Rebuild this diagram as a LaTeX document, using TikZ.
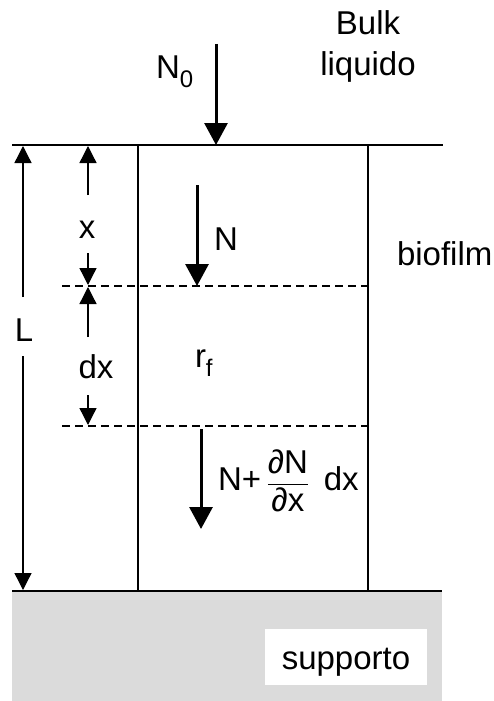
\documentclass[tikz,border=0pt]{standalone}
\usepackage{fontspec}
\usepackage{amsmath}
\setmainfont{Liberation Sans}
\usetikzlibrary{arrows.meta}
\begin{document}
\begin{tikzpicture}[x=1pt,y=-1pt,
  txt/.style={font=\fontsize{33}{40}\selectfont, inner sep=0pt, outer sep=0pt},
  thinarr/.style={line width=1.3pt, -{Triangle[width=17pt,length=17pt]}},
  thickarr/.style={line width=3pt, -{Triangle[width=23pt,length=22pt]}},
  surf/.style={line width=2.8pt},
  wall/.style={line width=1.6pt},
  dashline/.style={line width=1.3pt, dash pattern=on 8pt off 5pt}]
\useasboundingbox (0,0) rectangle (494,701);
% support
\fill[gray!28] (12,591) rectangle (442,701);
\fill[white] (265,629) rectangle (427,685);
\node[txt, anchor=base] (sup) at (346,669) {supporto};
% coordinates
\coordinate (tl) at (12,145); \coordinate (tr) at (443,145);
\coordinate (bl) at (12,591); \coordinate (br) at (442,591);
\coordinate (w1t) at (138,145); \coordinate (w1b) at (138,591);
\coordinate (w2t) at (368,145); \coordinate (w2b) at (368,591);
\coordinate (d1l) at (62,286); \coordinate (d1r) at (368,286);
\coordinate (d2l) at (62,426); \coordinate (d2r) at (368,426);
% walls
\draw[wall] (w1t) -- (w1b);
\draw[wall] (w2t) -- (w2b);
\draw[dashline] (d1l) -- (d1r);
\draw[dashline] (d2l) -- (d2r);
\draw[surf] (tl) -- (tr);
\draw[surf] (bl) -- (br);
% L dimension
\node[txt, anchor=base] (L) at (24,341) {L};
\coordinate (Lt) at (23,146); \coordinate (Lb) at (23,590);
\coordinate (Lm1) at (23,297); \coordinate (Lm2) at (23,356);
\draw[thinarr] (Lm1) -- (Lt);
\draw[thinarr] (Lm2) -- (Lb);
% x dimension
\node[txt, anchor=base] (xl) at (87,238) {x};
\coordinate (xt) at (88,146); \coordinate (xb) at (88,285);
\coordinate (xm1) at (88,195); \coordinate (xm2) at (88,253);
\draw[thinarr] (xm1) -- (xt);
\draw[thinarr] (xm2) -- (xb);
% dx dimension
\node[txt, anchor=base] (dxl) at (96,378) {dx};
\coordinate (dxt) at (88,287); \coordinate (dxb) at (88,425);
\coordinate (dxm1) at (88,337); \coordinate (dxm2) at (88,395);
\draw[thinarr] (dxm1) -- (dxt);
\draw[thinarr] (dxm2) -- (dxb);
% fluxes
\coordinate (n0s) at (216,44); \coordinate (n0e) at (216,145);
\draw[thickarr] (n0s) -- (n0e);
\node[txt, anchor=base west] (N0) at (156,78) {N\raisebox{-0.28em}{\fontsize{24}{24}\selectfont 0}};
\node[txt, anchor=base] (bulk1) at (368,35) {Bulk};
\node[txt, anchor=base] (bulk2) at (368,75) {liquido};
\coordinate (ns) at (197,185); \coordinate (ne) at (197,286);
\draw[thickarr] (ns) -- (ne);
\node[txt, anchor=base west] (Nl) at (214,250) {N};
\coordinate (n2s) at (201,429); \coordinate (n2e) at (201,529);
\draw[thickarr] (n2s) -- (n2e);
\node[txt, anchor=west] (N2) at (218,481) {N+\,$\dfrac{\text{∂N}}{\text{∂x}}$\, dx};
\node[txt, anchor=base west] (rf) at (195,367) {r\raisebox{-0.28em}{\fontsize{24}{24}\selectfont f}};
\node[txt, anchor=base west] (bio) at (397,265) {biofilm};
\end{tikzpicture}
\end{document}
